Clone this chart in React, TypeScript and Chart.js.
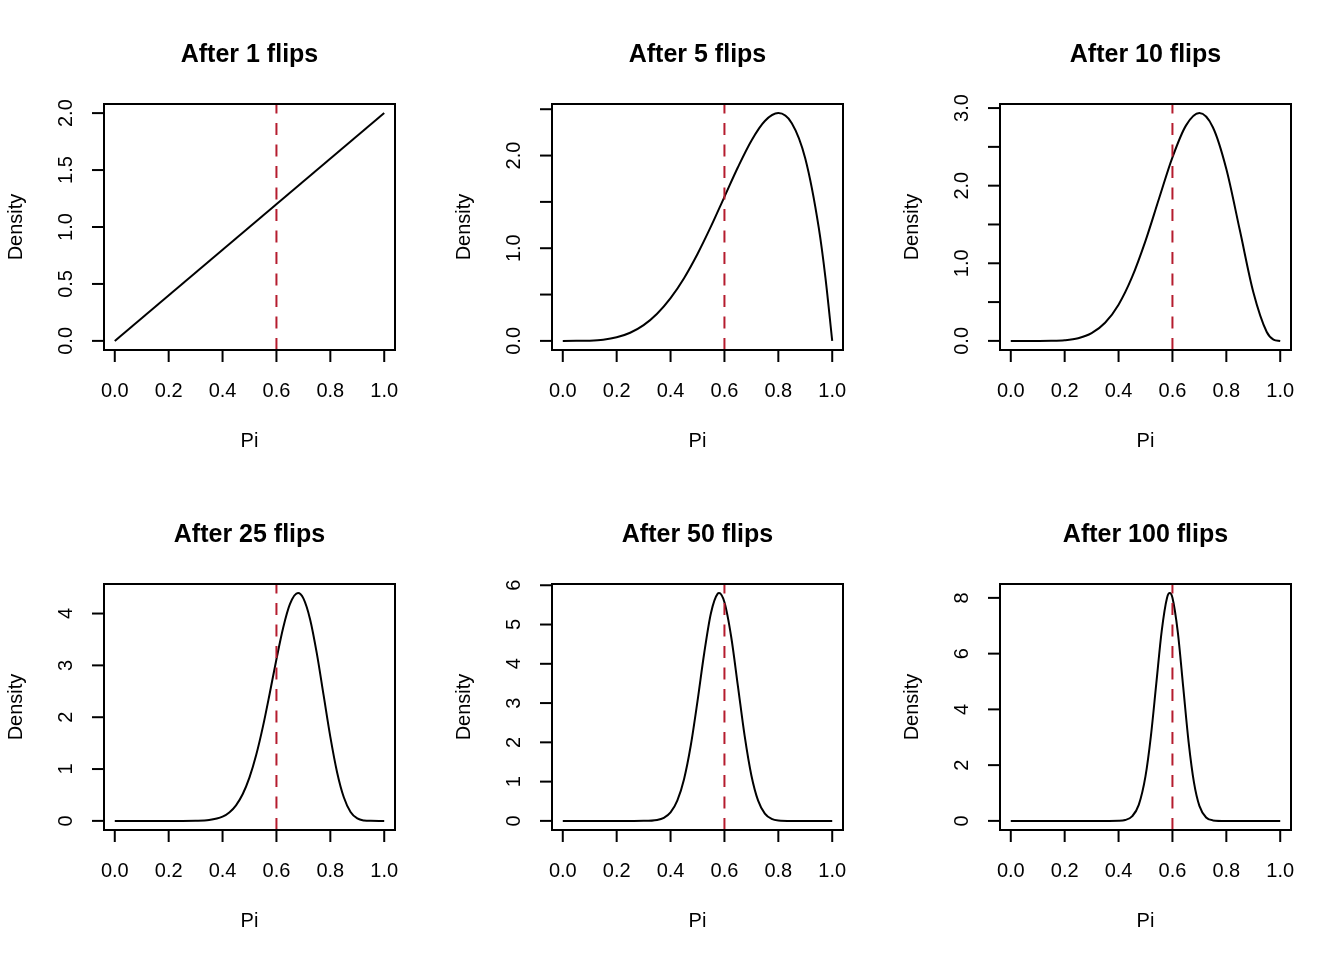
import { useEffect, useRef } from 'react';
import { Chart, registerables } from 'chart.js';

Chart.register(...registerables);

// x axis is shared by all panels
const xTicks = [0, 0.2, 0.4, 0.6, 0.8, 1];
const xTickLabels = ['0.0', '0.2', '0.4', '0.6', '0.8', '1.0'];
const truePi = 0.6;

// After 1 flip
const pi1 = [0, 1];
const dens1 = [0, 2];
const yTicks1 = [0, 0.5, 1, 1.5, 2];
const yLabels1 = ['0.0', '0.5', '1.0', '1.5', '2.0'];

// After 5 flips
const pi5 = [0, 0.05, 0.1, 0.15, 0.2, 0.25, 0.3, 0.35, 0.4, 0.45, 0.5, 0.55, 0.6, 0.65, 0.7, 0.75, 0.8, 0.85, 0.9, 0.95, 0.975, 1];
const dens5 = [0, 0.0002, 0.0027, 0.0129, 0.0384, 0.0879, 0.17, 0.293, 0.461, 0.677, 0.938, 1.235, 1.555, 1.874, 2.161, 2.373, 2.458, 2.349, 1.968, 1.222, 0.678, 0];
const yTicks5 = [0, 0.5, 1, 1.5, 2, 2.5];
const yLabels5 = ['0.0', '', '1.0', '', '2.0', ''];

// After 10 flips
const pi10 = [0, 0.05, 0.1, 0.15, 0.2, 0.25, 0.3, 0.35, 0.4, 0.45, 0.5, 0.55, 0.6, 0.65, 0.7, 0.75, 0.8, 0.85, 0.9, 0.95, 0.975, 1];
const dens10 = [0, 0, 0.0001, 0.0014, 0.0087, 0.034, 0.099, 0.233, 0.467, 0.821, 1.289, 1.831, 2.365, 2.774, 2.935, 2.753, 2.215, 1.428, 0.631, 0.115, 0.017, 0];
const yTicks10 = [0, 0.5, 1, 1.5, 2, 2.5, 3];
const yLabels10 = ['0.0', '', '1.0', '', '2.0', '', '3.0'];

// After 25 flips
const pi25 = [0, 0.25, 0.3, 0.35, 0.4, 0.425, 0.45, 0.475, 0.5, 0.525, 0.55, 0.575, 0.6, 0.625, 0.65, 0.68, 0.7, 0.725, 0.75, 0.775, 0.8, 0.825, 0.85, 0.875, 0.9, 0.925, 0.95, 1];
const dens25 = [0, 0.0002, 0.0021, 0.0159, 0.081, 0.162, 0.3, 0.518, 0.838, 1.274, 1.823, 2.458, 3.119, 3.726, 4.18, 4.394, 4.292, 3.886, 3.226, 2.425, 1.621, 0.94, 0.455, 0.173, 0.047, 0.0075, 0.0005, 0];
const yTicks25 = [0, 1, 2, 3, 4];
const yLabels25 = ['0', '1', '2', '3', '4'];

// After 50 flips
const pi50 = [0, 0.25, 0.3, 0.35, 0.375, 0.4, 0.425, 0.45, 0.475, 0.5, 0.525, 0.55, 0.575, 0.58, 0.6, 0.625, 0.65, 0.675, 0.7, 0.725, 0.75, 0.775, 0.8, 0.85, 0.9, 1];
const dens50 = [0, 0, 0.0013, 0.0243, 0.0787, 0.217, 0.515, 1.063, 1.92, 3.05, 4.275, 5.294, 5.785, 5.8, 5.565, 4.688, 3.433, 2.163, 1.157, 0.515, 0.186, 0.053, 0.011, 0.0002, 0, 0];
const yTicks50 = [0, 1, 2, 3, 4, 5, 6];
const yLabels50 = ['0', '1', '2', '3', '4', '5', '6'];

// After 100 flips
const pi100 = [0, 0.35, 0.4, 0.425, 0.45, 0.475, 0.5, 0.52, 0.54, 0.56, 0.58, 0.59, 0.6, 0.62, 0.64, 0.66, 0.68, 0.7, 0.725, 0.75, 0.8, 0.85, 1];
const dens100 = [0, 0, 0.0054, 0.0338, 0.159, 0.575, 1.603, 3.041, 4.922, 6.8, 8.005, 8.171, 8.003, 6.763, 4.796, 2.829, 1.371, 0.538, 0.12, 0.018, 0.0001, 0, 0];
const yTicks100 = [0, 2, 4, 6, 8];
const yLabels100 = ['0', '2', '4', '6', '8'];

const FONT = '"Liberation Sans", Arial, Helvetica, sans-serif';

interface PanelProps {
  title: string;
  xs: number[];
  ys: number[];
  yTicks: number[];
  yLabels: string[];
}

function rStylePlugin(title: string, yTicks: number[], yLabels: string[]) {
  return {
    id: 'rStyle',
    afterDatasetsDraw(chart: Chart) {
      const { ctx, chartArea: a, scales } = chart;
      const x = scales.x.getPixelForValue(truePi);
      ctx.save();
      ctx.beginPath();
      ctx.rect(a.left, a.top, a.right - a.left, a.bottom - a.top);
      ctx.clip();
      ctx.strokeStyle = '#B51C2E';
      ctx.lineWidth = 2;
      ctx.setLineDash([12, 9.5]);
      ctx.beginPath();
      ctx.moveTo(x, a.bottom);
      ctx.lineTo(x, a.top);
      ctx.stroke();
      ctx.restore();
    },
    afterDraw(chart: Chart) {
      const { ctx, chartArea: a, scales } = chart;
      const cx = (a.left + a.right) / 2;
      const cy = (a.top + a.bottom) / 2;
      ctx.save();
      ctx.strokeStyle = '#000';
      ctx.fillStyle = '#000';
      ctx.lineWidth = 2;

      // box
      ctx.strokeRect(a.left, a.top, a.right - a.left, a.bottom - a.top);

      // x axis
      ctx.font = `20px ${FONT}`;
      ctx.textAlign = 'center';
      ctx.textBaseline = 'alphabetic';
      xTicks.forEach((v, i) => {
        const px = scales.x.getPixelForValue(v);
        ctx.beginPath();
        ctx.moveTo(px, a.bottom);
        ctx.lineTo(px, a.bottom + 12);
        ctx.stroke();
        ctx.fillText(xTickLabels[i], px, a.bottom + 47);
      });
      ctx.fillText('Pi', cx, a.bottom + 97);

      // y axis
      yTicks.forEach((v, i) => {
        const py = scales.y.getPixelForValue(v);
        ctx.beginPath();
        ctx.moveTo(a.left, py);
        ctx.lineTo(a.left - 12, py);
        ctx.stroke();
        if (yLabels[i]) {
          ctx.save();
          ctx.translate(a.left - 32, py);
          ctx.rotate(-Math.PI / 2);
          ctx.fillText(yLabels[i], 0, 0);
          ctx.restore();
        }
      });
      ctx.save();
      ctx.translate(a.left - 82, cy);
      ctx.rotate(-Math.PI / 2);
      ctx.fillText('Density', 0, 0);
      ctx.restore();

      // title
      ctx.font = `bold 25px ${FONT}`;
      ctx.fillText(title, cx, a.top - 42);
      ctx.restore();
    },
  };
}

function Panel({ title, xs, ys, yTicks, yLabels }: PanelProps) {
  const chartRef = useRef<HTMLCanvasElement>(null);
  const chartInstance = useRef<Chart | null>(null);

  useEffect(() => {
    if (!chartRef.current) return;
    if (chartInstance.current) chartInstance.current.destroy();

    const ymax = Math.max(...ys);

    chartInstance.current = new Chart(chartRef.current, {
      type: 'line',
      data: {
        datasets: [
          {
            data: xs.map((x, i) => ({ x, y: ys[i] })),
            borderColor: '#000',
            borderWidth: 2,
            pointRadius: 0,
            fill: false,
            cubicInterpolationMode: 'monotone',
          },
        ],
      },
      options: {
        animation: false,
        responsive: false,
        events: [],
        layout: { padding: { left: 104, right: 53, top: 104, bottom: 130 } },
        plugins: {
          legend: { display: false },
          tooltip: { enabled: false },
        },
        scales: {
          x: { type: 'linear', display: false, min: -0.04, max: 1.04 },
          y: { type: 'linear', display: false, min: -0.04 * ymax, max: 1.04 * ymax },
        },
      },
      plugins: [rStylePlugin(title, yTicks, yLabels)],
    });

    return () => {
      if (chartInstance.current) {
        chartInstance.current.destroy();
        chartInstance.current = null;
      }
    };
  }, [title, xs, ys, yTicks, yLabels]);

  return <canvas ref={chartRef} width={448} height={480} style={{ display: 'block', width: 448, height: 480 }} />;
}

export default function App() {
  return (
    <div
      style={{
        position: 'absolute',
        left: 0,
        top: 0,
        width: 1344,
        height: 960,
        background: '#fff',
        display: 'grid',
        gridTemplateColumns: 'repeat(3, 448px)',
        gridTemplateRows: 'repeat(2, 480px)',
      }}
    >
      <Panel title="After 1 flips" xs={pi1} ys={dens1} yTicks={yTicks1} yLabels={yLabels1} />
      <Panel title="After 5 flips" xs={pi5} ys={dens5} yTicks={yTicks5} yLabels={yLabels5} />
      <Panel title="After 10 flips" xs={pi10} ys={dens10} yTicks={yTicks10} yLabels={yLabels10} />
      <Panel title="After 25 flips" xs={pi25} ys={dens25} yTicks={yTicks25} yLabels={yLabels25} />
      <Panel title="After 50 flips" xs={pi50} ys={dens50} yTicks={yTicks50} yLabels={yLabels50} />
      <Panel title="After 100 flips" xs={pi100} ys={dens100} yTicks={yTicks100} yLabels={yLabels100} />
    </div>
  );
}
